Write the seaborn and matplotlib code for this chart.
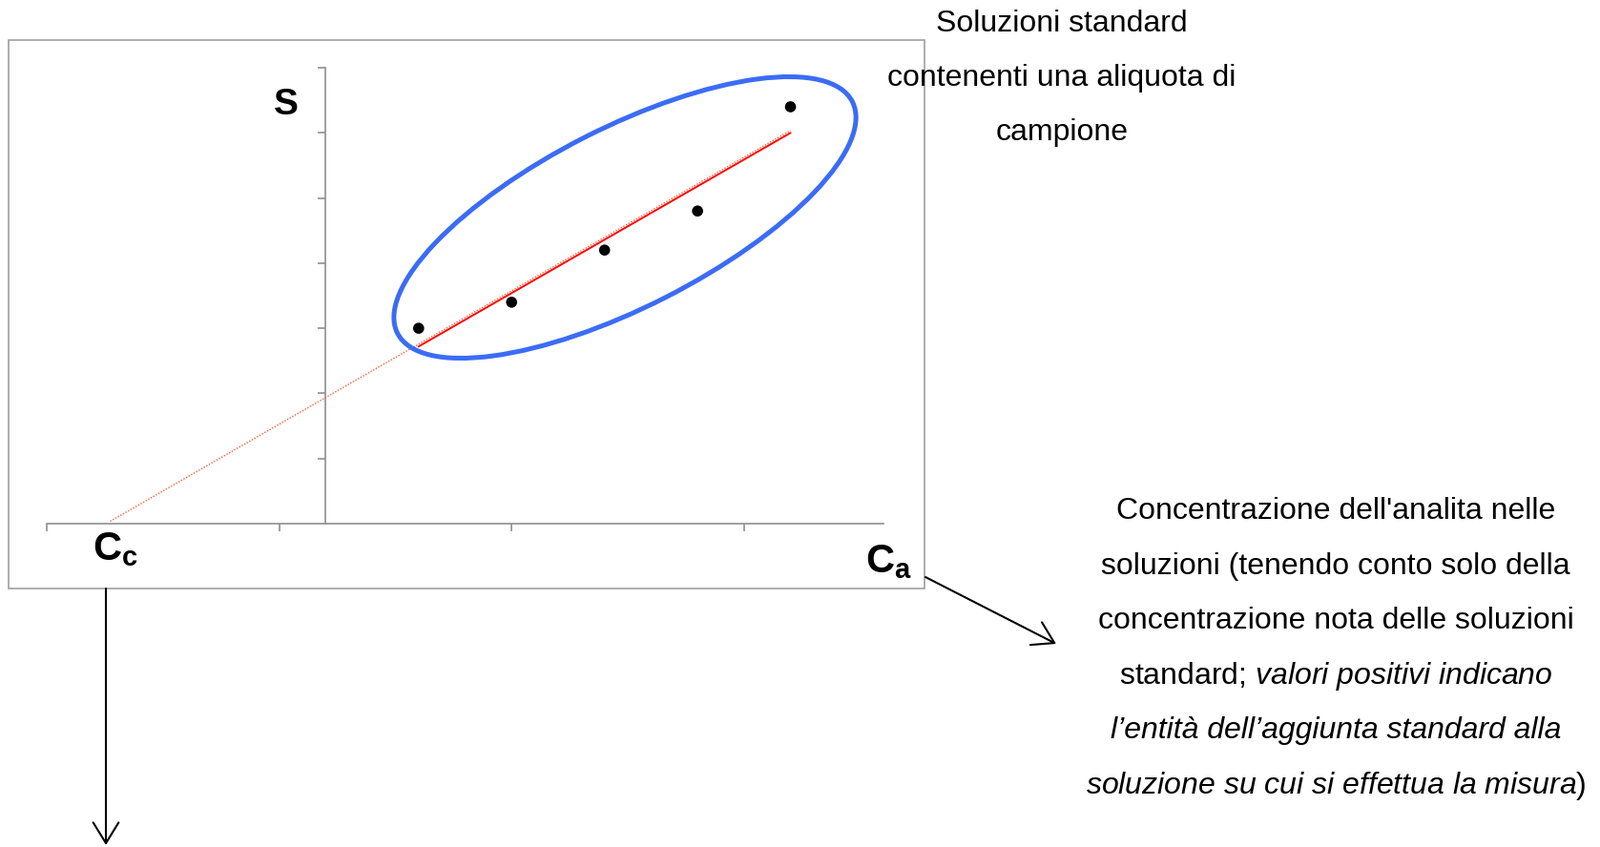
import numpy as np
import seaborn as sns
import matplotlib.pyplot as plt
from matplotlib.patches import Ellipse, Rectangle
from matplotlib import transforms

# standard additions: concentration added vs measured signal
conc_added = [2, 4, 6, 8, 10]
signal = [3.0, 3.4, 4.2, 4.8, 6.4]

x_ticks = [-6, -1, 4, 9]
y_ticks = [1, 2, 3, 4, 5, 6, 7]

note_top = ["Soluzioni standard", "contenenti una aliquota di", "campione"]
note_right = [
    "Concentrazione dell'analita nelle",
    "soluzioni (tenendo conto solo della",
    "concentrazione nota delle soluzioni",
    r"standard; $\mathit{valori\ positivi\ indicano}$",
    "l\u2019entit\u00e0 dell\u2019aggiunta standard alla",
    r"$\mathit{soluzione\ su\ cui\ si\ effettua\ la\ misura}$)",
]
italic_lines = [False, False, False, False, True, False]

sns.set_theme(style="white")
plt.rcParams["font.family"] = ["Liberation Sans", "DejaVu Sans"]
plt.rcParams["text.color"] = "black"
plt.rcParams["mathtext.fontset"] = "custom"
plt.rcParams["mathtext.rm"] = "Liberation Sans"
plt.rcParams["mathtext.it"] = "Liberation Sans:italic"
plt.rcParams["mathtext.bf"] = "Liberation Sans:bold"

W, H = 1677, 888
fig = plt.figure(figsize=(W / 100, H / 100), dpi=100)
fig.patch.set_facecolor("white")


def fx(x):
    return x / W


def fy(y):
    return 1 - y / H


ax = fig.add_axes([fx(49), fy(549), (926 - 49) / W, (549 - 71) / H])
ax.set_facecolor("none")

# fitted line through the standards, then extrapolated back to S = 0
slope, intercept = np.polyfit(conc_added, signal, 1)
x0 = -intercept / slope
ext_x = np.array([x0, max(conc_added)])
ext_y = slope * ext_x + intercept
shifted = transforms.offset_copy(ax.transData, fig=fig, x=0, y=2.5, units="dots")
ax.plot(ext_x, ext_y, color="#ff5a36", lw=1.0, ls=(0, (1, 1.2)), transform=shifted, zorder=2)

sns.regplot(x=conc_added, y=signal, ax=ax, ci=None, truncate=True,
            scatter_kws=dict(s=70, color="black", alpha=1, edgecolor="none", zorder=4,
                             clip_on=False),
            line_kws=dict(color="#ff0000", lw=1.4, zorder=3))

ax.set_xlim(-6, 12)
ax.set_ylim(0, 7)
ax.set_xticks(x_ticks)
ax.set_yticks(y_ticks)
ax.set_xticklabels([])
ax.set_yticklabels([])
ax.set_xlabel("")
ax.set_ylabel("")
ax.grid(False)
for side in ["top", "right"]:
    ax.spines[side].set_visible(False)
ax.spines["left"].set_position(("data", 0))
for side in ["left", "bottom"]:
    ax.spines[side].set_color("#8f8f8f")
    ax.spines[side].set_linewidth(1.2)
ax.tick_params(axis="both", direction="out", length=5.5, width=1.2, color="#8f8f8f",
               left=True, bottom=True)

# outer frame around the chart
fig.add_artist(Rectangle((fx(9), fy(617)), 960 / W, 575 / H, transform=fig.transFigure,
                         fill=False, ec="#a0a0a0", lw=1.2))

# blue ellipse around the standards
fig.add_artist(Ellipse((6.55, 6.60), 5.35, 1.88, angle=27, transform=fig.dpi_scale_trans,
                       fill=False, ec="#3b6cf6", lw=3.6, zorder=5))

# axis labels
fig.text(fx(287), fy(120), "S", fontsize=28, fontweight="bold", ha="left", va="baseline")
fig.text(fx(97), fy(587), r"$\mathbf{C_c}$", fontsize=30, ha="left", va="baseline")
fig.text(fx(907), fy(600), r"$\mathbf{C_a}$", fontsize=30, ha="left", va="baseline")

# notes
for i, line in enumerate(note_top):
    fig.text(fx(1113), fy(33 + 57 * i), line, fontsize=23, ha="center", va="baseline")

for i, line in enumerate(note_right):
    fig.text(fx(1400), fy(544 + 57.6 * i), line, fontsize=23, ha="center", va="baseline",
             fontstyle="italic" if italic_lines[i] else "normal")

arrow = dict(arrowstyle="->,head_length=1.3,head_width=0.8", color="black", lw=1.5,
             shrinkA=0, shrinkB=0)
fig.add_artist(plt.Annotation("", xy=(111, H - 886), xycoords="figure pixels",
                              xytext=(111, H - 617), textcoords="figure pixels", arrowprops=arrow))
fig.add_artist(plt.Annotation("", xy=(1107, H - 675), xycoords="figure pixels",
                              xytext=(970, H - 605), textcoords="figure pixels", arrowprops=arrow))

fig.savefig("out.png", dpi=100, facecolor="white")
